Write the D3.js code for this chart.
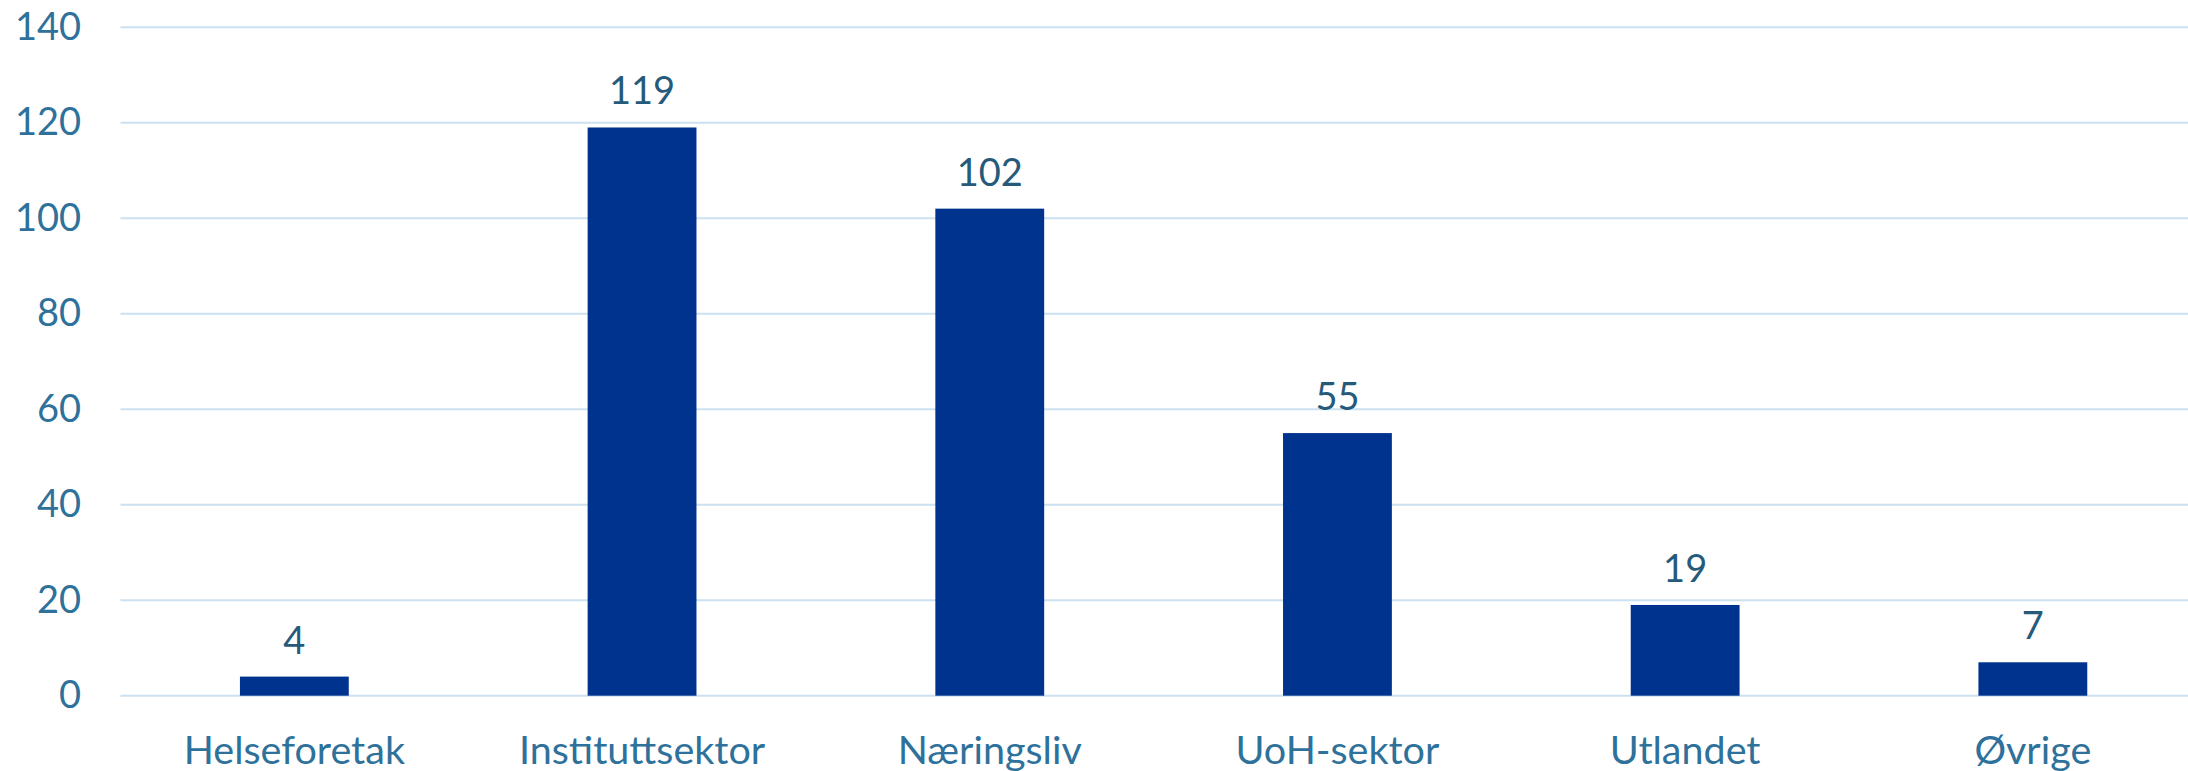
<!DOCTYPE html>
<html>
<head>
<meta charset="utf-8">
<script src="https://cdn.jsdelivr.net/npm/d3@7"></script>
<style>
  html, body { margin: 0; padding: 0; background: #fff; overflow: hidden; }
  svg { display: block; font-family: Lato, "Open Sans", sans-serif; }
</style>
</head>
<body>
<script>
// data
var categories = ["Helseforetak", "Instituttsektor", "Næringsliv", "UoH-sektor", "Utlandet", "Øvrige"];
var values = [4, 119, 102, 55, 19, 7];
var yTicks = [0, 20, 40, 60, 80, 100, 120, 140];

function createChart(width = 2188, height = 771) {
  var data = categories.map((c, i) => ({ name: c, value: values[i] }));

  var svg = d3.select("body").append("svg")
    .attr("width", width)
    .attr("height", height)
    .attr("viewBox", [0, 0, width, height]);

  // plot area runs past the right edge, like the cropped original
  var x = d3.scaleBand()
    .domain(categories)
    .range([120.5, 2206.7])
    .paddingInner(0.687)
    .paddingOuter(0.3435);

  var y = d3.scaleLinear()
    .domain([0, 140])
    .range([695.7, 27.2]);

  var grid = g => g
    .attr("stroke", "#cbe0f0")
    .attr("stroke-width", 2)
    .call(g => g.selectAll("line")
      .data(yTicks)
      .join("line")
        .attr("x1", 120.5)
        .attr("x2", width)
        .attr("y1", d => y(d))
        .attr("y2", d => y(d)));

  var yAxis = g => g
    .attr("transform", `translate(${81},0)`)
    .call(d3.axisLeft(y).tickValues(yTicks).tickSize(0).tickPadding(0))
    .call(g => g.select(".domain").remove())
    .call(g => g.selectAll("text")
      .attr("fill", "#2e719b")
      .attr("font-size", 38)
      .attr("font-family", "Lato, sans-serif"));

  var xAxis = g => g
    .attr("transform", `translate(0,${y(0)})`)
    .call(d3.axisBottom(x).tickSize(0).tickPadding(0))
    .call(g => g.select(".domain").remove())
    .call(g => g.selectAll("text")
      .attr("dy", null)
      .attr("y", 68)
      .attr("fill", "#2e719b")
      .attr("font-size", 39.5)
      .attr("font-family", "Lato, sans-serif"));

  svg.append("g").call(grid);
  svg.append("g").call(yAxis);
  svg.append("g").call(xAxis);

  svg.append("g")
    .selectAll("rect")
    .data(data)
    .join("rect")
      .attr("x", d => x(d.name))
      .attr("width", x.bandwidth())
      .attr("y", d => y(d.value))
      .attr("height", d => y(0) - y(d.value))
      .attr("fill", "#00338d");

  svg.append("g")
    .selectAll("text")
    .data(data)
    .join("text")
      .attr("x", d => x(d.name) + x.bandwidth() / 2)
      .attr("y", d => y(d.value) - 23)
      .attr("text-anchor", "middle")
      .attr("fill", "#265a7a")
      .attr("font-size", 38)
      .text(d => d.value);

  return svg.node();
}

createChart();
</script>
</body>
</html>
